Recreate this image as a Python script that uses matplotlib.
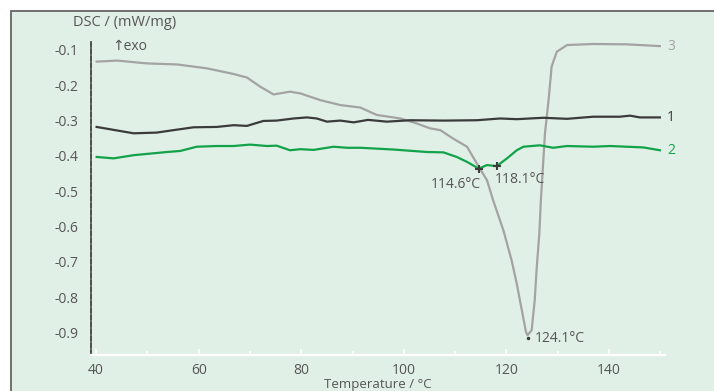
import matplotlib.pyplot as plt
import matplotlib.patches as patches
from matplotlib.ticker import MultipleLocator

# series
temp_1 = [40.1, 47.3, 51.8, 55.1, 59.0, 63.5, 66.8, 69.4, 72.6, 75.2,
          78.5, 81.1, 83.0, 85.0, 87.6, 90.2, 93.0, 96.7, 101.2, 107.7,
          114.2, 118.8, 122.0, 127.2, 131.8, 136.9, 142.1, 144.1, 146.0, 149.9]
dsc_1 = [-0.318, -0.336, -0.334, -0.327, -0.319, -0.318, -0.313, -0.315, -0.301, -0.300,
         -0.294, -0.291, -0.294, -0.303, -0.300, -0.305, -0.298, -0.303, -0.299, -0.300,
         -0.299, -0.294, -0.296, -0.292, -0.295, -0.289, -0.289, -0.286, -0.291, -0.291]

temp_2 = [40.1, 43.4, 47.3, 53.8, 56.4, 59.6, 63.5, 66.8, 70.0, 73.3,
          75.2, 77.8, 79.8, 82.4, 86.3, 88.9, 91.5, 98.0, 104.5, 107.7,
          110.3, 112.3, 114.6, 116.2, 118.1, 120.1, 122.0, 123.3, 126.5, 129.1,
          131.8, 136.9, 140.2, 143.4, 146.7, 149.9]
dsc_2 = [-0.403, -0.407, -0.398, -0.389, -0.386, -0.374, -0.372, -0.372, -0.368, -0.372,
         -0.371, -0.384, -0.381, -0.383, -0.374, -0.377, -0.377, -0.382, -0.389, -0.390,
         -0.403, -0.417, -0.436, -0.426, -0.429, -0.407, -0.384, -0.374, -0.370, -0.377,
         -0.372, -0.374, -0.372, -0.374, -0.376, -0.384]

temp_3 = [40.1, 44.1, 49.9, 55.8, 61.6, 66.8, 69.4, 72.0, 74.6, 77.8,
          79.8, 83.7, 87.6, 91.5, 94.7, 99.3, 102.5, 105.1, 107.1, 109.6,
          112.3, 114.2, 116.2, 117.4, 119.4, 121.0, 122.0, 123.0, 123.8, 124.1,
          124.9, 125.5, 125.9, 126.4, 126.7, 127.5, 128.2, 128.8, 129.8, 131.8,
          136.9, 143.4, 149.9]
dsc_3 = [-0.133, -0.130, -0.138, -0.141, -0.152, -0.168, -0.178, -0.204, -0.226, -0.218,
         -0.223, -0.242, -0.256, -0.263, -0.284, -0.294, -0.308, -0.322, -0.327, -0.351,
         -0.374, -0.421, -0.469, -0.526, -0.611, -0.696, -0.762, -0.838, -0.899, -0.908,
         -0.894, -0.809, -0.715, -0.620, -0.526, -0.336, -0.242, -0.147, -0.105, -0.086,
         -0.083, -0.084, -0.089]

# marked points: (temperature, dsc, label)
peaks_2 = [(114.6, -0.436, '114.6°C'), (118.1, -0.429, '118.1°C')]
peak_3 = (124.1, -0.908, '124.1°C')

dark = '#3b3b3b'
green = '#12a24a'
grey = '#a3a3a3'
text_col = '#555555'
bg = '#e1f0e6'

plt.rcParams['font.family'] = ['Open Sans', 'DejaVu Sans']

fig = plt.figure(figsize=(7.14, 3.91), dpi=100)
fig.patch.set_facecolor('white')
frame = patches.Rectangle((11 / 714, -0.05), 1.1, 1.05 - 11 / 391,
                          transform=fig.transFigure, facecolor=bg,
                          edgecolor='#6f6f6f', linewidth=1.4, zorder=0)
fig.add_artist(frame)

ax = fig.add_axes([91 / 714, 1 - 355 / 391, 574 / 714, 315 / 391])
ax.set_facecolor('none')

ax.plot(temp_3, dsc_3, color=grey, lw=1.6, zorder=2)
ax.plot(temp_1, dsc_1, color=dark, lw=1.6, zorder=3)
ax.plot(temp_2, dsc_2, color=green, lw=1.6, zorder=4)

for t, v, lab in peaks_2:
    ax.plot(t, v, marker='+', color=dark, ms=6, mew=1.5, zorder=5)
ax.text(peaks_2[0][0] + 0.4, -0.480, peaks_2[0][2], ha='right', va='center',
        fontsize=10, color=text_col)
ax.text(peaks_2[1][0] - 0.3, -0.466, peaks_2[1][2], ha='left', va='center',
        fontsize=10, color=text_col)
ax.plot(peak_3[0], peak_3[1] - 0.008, marker='.', color=dark, ms=3, zorder=5)
ax.text(peak_3[0] + 1.4, -0.916, peak_3[2], ha='left', va='center',
        fontsize=10, color=text_col)

# curve numbers at the right end
ax.text(151.3, dsc_3[-1], '3', color=grey, fontsize=10, va='center')
ax.text(151.3, dsc_1[-1], '1', color=dark, fontsize=10, va='center')
ax.text(151.3, dsc_2[-1], '2', color=green, fontsize=10, va='center')

ax.set_xlim(39.0, 150.9)
ax.set_ylim(-0.964, -0.0717)
ax.set_xticks([40, 60, 80, 100, 120, 140])
ax.xaxis.set_minor_locator(MultipleLocator(10))
ax.set_yticks([-0.1, -0.2, -0.3, -0.4, -0.5, -0.6, -0.7, -0.8, -0.9])
ax.set_yticklabels(['-0.1', '-0.2', '-0.3', '-0.4', '-0.5', '-0.6', '-0.7', '-0.8', '-0.9'])

for side in ['top', 'right']:
    ax.spines[side].set_visible(False)
ax.spines['left'].set_color('#333333')
ax.spines['left'].set_linestyle((0, (3, 1.2)))
ax.spines['left'].set_linewidth(1.2)
ax.spines['bottom'].set_color('white')
ax.spines['bottom'].set_linewidth(1.6)

ax.tick_params(axis='x', which='both', direction='in', color='white',
               width=1.2, labelsize=10, labelcolor=text_col, pad=6)
ax.tick_params(axis='x', which='major', length=4)
ax.tick_params(axis='x', which='minor', length=3)
ax.tick_params(axis='y', length=0, labelsize=10, labelcolor=text_col, pad=9)

fig.text(73 / 714, 1 - 22 / 391, 'DSC / (mW/mg)', fontsize=10.5, color=text_col, va='center')
fig.text(112 / 714, 1 - 46 / 391, '↑exo', fontsize=10, color=text_col, va='center')
fig.text(378 / 714, 1 - 384.5 / 391, 'Temperature / °C', fontsize=9.5, color=text_col,
         ha='center', va='center')

fig.savefig('out.png', dpi=100)
